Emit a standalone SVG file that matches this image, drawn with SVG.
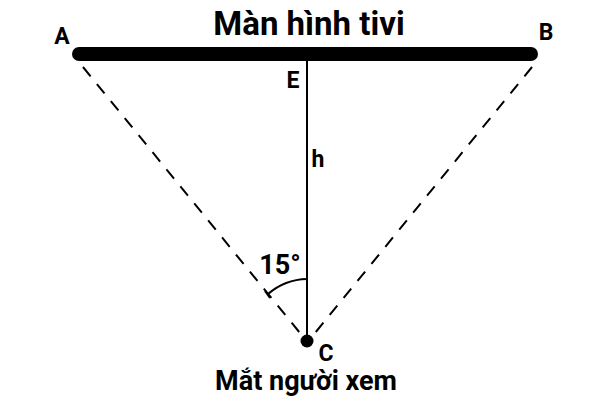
<svg xmlns="http://www.w3.org/2000/svg" width="600" height="400" viewBox="0 0 600 400">
<style>
text{font-family:Roboto,"Liberation Sans",sans-serif;font-weight:bold;fill:#000}
.dash{stroke:#000;stroke-width:2;stroke-dasharray:12,10;fill:none}
</style>
<rect width="600" height="400" fill="#fff"/>
<g id="connectors">
<line class="dash" x1="83" y1="67" x2="300" y2="333"/>
<line class="dash" x1="532" y1="67" x2="315" y2="333"/>
<line x1="307" y1="60" x2="307" y2="341" stroke="#000" stroke-width="2"/>
<path d="M307,279 A62,62 0 0 0 268,294" fill="none" stroke="#000" stroke-width="2"/>
<line x1="265" y1="291" x2="270" y2="298" stroke="#000" stroke-width="2"/>
</g>
<g id="screen">
<line x1="79" y1="54" x2="531" y2="54" stroke="#000" stroke-width="14" stroke-linecap="round"/>
<text x="309" y="35" font-size="33" text-anchor="middle">Màn hình tivi</text>
</g>
<g id="A"><text x="62" y="44" font-size="23" text-anchor="middle">A</text></g>
<g id="B"><text x="546" y="40" font-size="23" text-anchor="middle">B</text></g>
<g id="E"><text x="293" y="88" font-size="23" text-anchor="middle">E</text></g>
<g id="h"><text x="318" y="167" font-size="23" text-anchor="middle">h</text></g>
<g id="angle"><text x="280" y="274" font-size="27" text-anchor="middle">15°</text></g>
<g id="C">
<circle cx="307" cy="341" r="6.5" fill="#000"/>
<text x="326" y="361" font-size="23" text-anchor="middle">C</text>
<text x="306" y="390" font-size="27" text-anchor="middle">Mắt người xem</text>
</g>
</svg>
